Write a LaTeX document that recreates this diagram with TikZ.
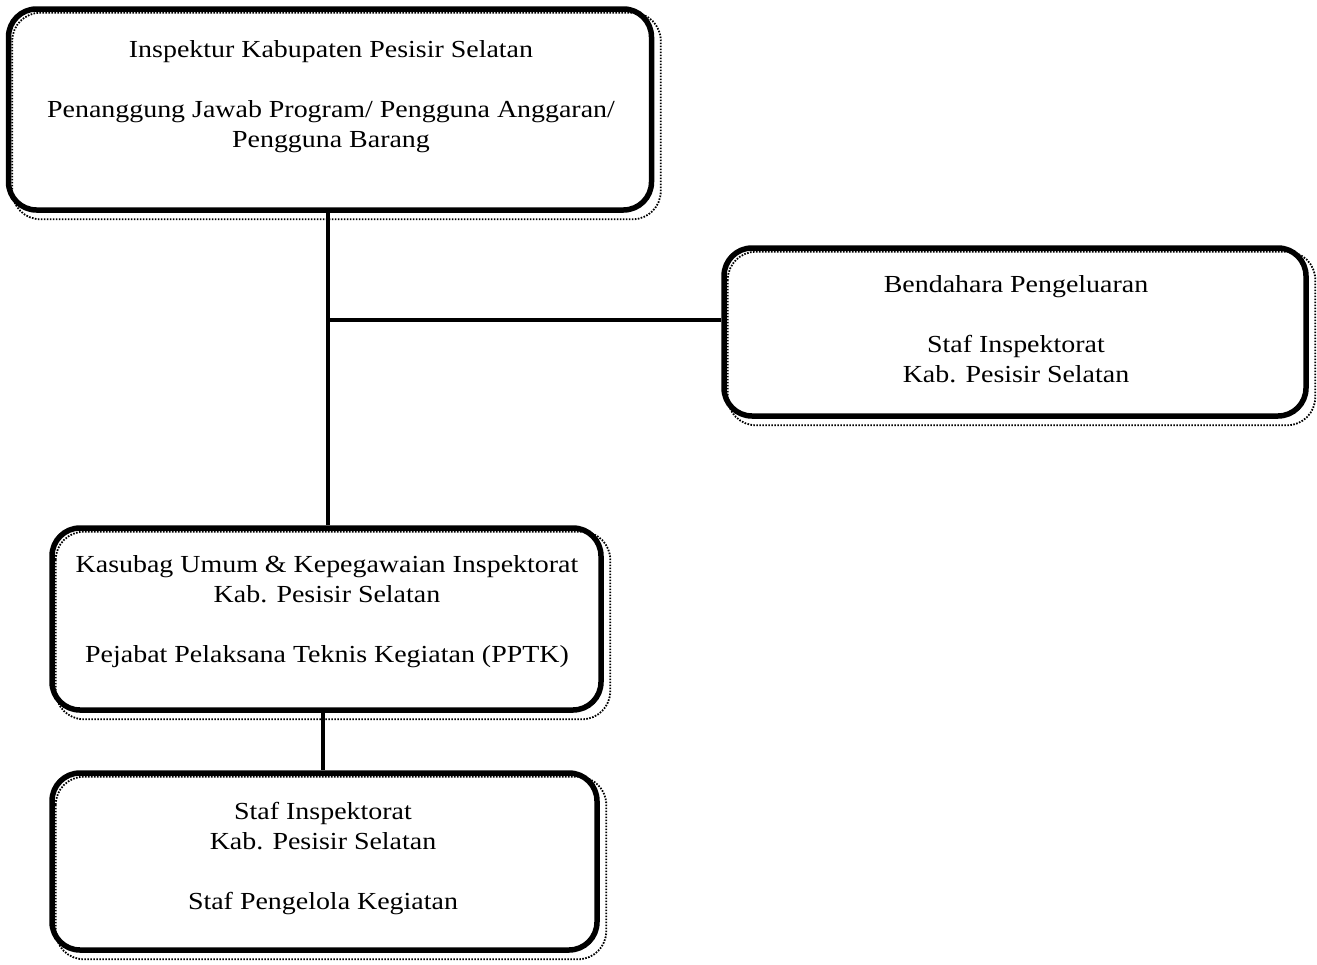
\documentclass[tikz,border=0pt]{standalone}
\usepackage{fontspec}
\setmainfont{Liberation Serif}[FakeStretch=1.14]
\begin{document}
\begin{tikzpicture}[x=1pt,y=-1pt,
  box/.style={draw=black,line width=5.5pt,rounded corners=28pt,inner sep=0pt,fill=none},
  dots/.style={draw=black,line width=1.8pt,dash pattern=on 1.6pt off 1.4pt,rounded corners=28pt},
  lbl/.style={align=center,font=\fontsize{24.5}{30}\selectfont,inner sep=0pt,anchor=north},
  link/.style={draw=black,line width=3.2pt}]
\useasboundingbox (0,0) rectangle (1317,964);
% boxes
\node[box,minimum width=643pt,minimum height=201pt] (top) at (330,109.5) {};
\node[box,minimum width=582pt,minimum height=168pt] (bend) at (1015,332) {};
\node[box,minimum width=549pt,minimum height=182pt] (kas) at (326.5,619) {};
\node[box,minimum width=545pt,minimum height=177pt] (staf) at (324.5,861.5) {};
% dotted offset outlines
\foreach \b in {top,bend,kas,staf}{
  \draw[dots] ([shift={(6.5,6.5)}]\b.north west) rectangle ([shift={(6.5,6.5)}]\b.south east);
}
% texts
\node[lbl] (t1) at (331,40) {Inspektur Kabupaten Pesisir Selatan\\[30pt]Penanggung Jawab Program/ Pengguna Anggaran/\\Pengguna Barang};
\node[lbl] (t2) at (1016,275) {Bendahara Pengeluaran\\[30pt]Staf Inspektorat\\Kab. Pesisir Selatan};
\node[lbl] (t3) at (327,555) {Kasubag Umum \& Kepegawaian Inspektorat\\Kab. Pesisir Selatan\\[30pt]Pejabat Pelaksana Teknis Kegiatan (PPTK)};
\node[lbl] (t4) at (323,802) {Staf Inspektorat\\Kab. Pesisir Selatan\\[30pt]Staf Pengelola Kegiatan};
% connectors
\coordinate (j) at (328,320);
\draw[link] (top.south -| j) -- (kas.north -| j);
\draw[link] (j) -- (bend.west |- j);
\draw[link] (kas.south -| 323,0) -- (staf.north -| 323,0);
\end{tikzpicture}
\end{document}
